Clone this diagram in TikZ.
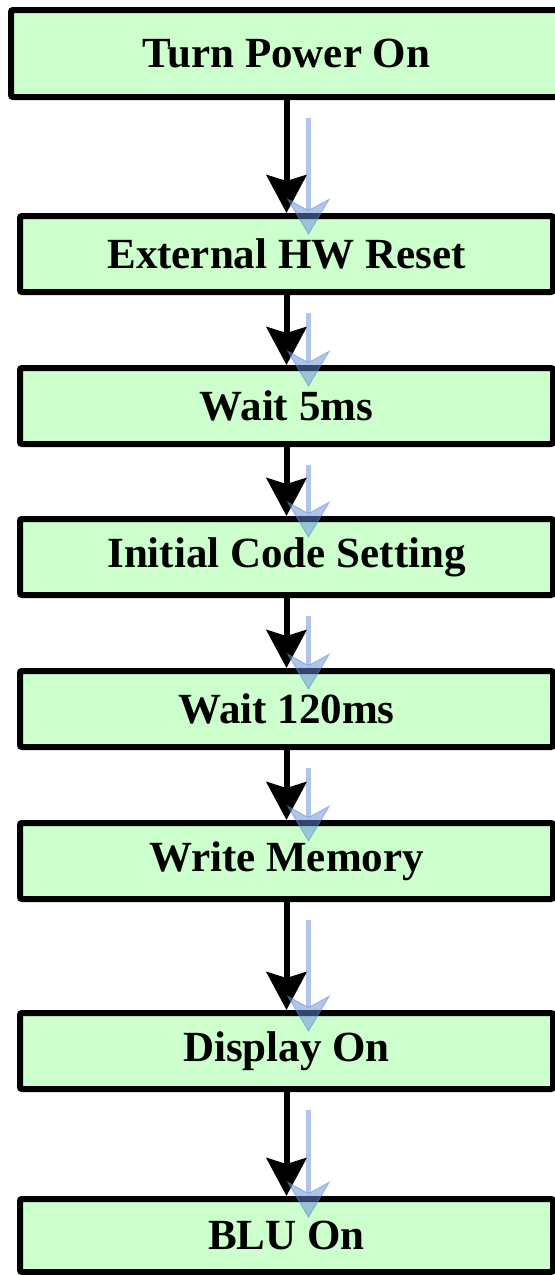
\documentclass[tikz,border=0pt]{standalone}
\usepackage{fontspec}
\setmainfont{Liberation Serif}
\usetikzlibrary{positioning}
\usetikzlibrary{arrows.meta}

\definecolor{boxgreen}{RGB}{204,255,204}
\definecolor{ghostblue}{RGB}{100,140,215}

\begin{document}
\begin{tikzpicture}[flowbox/.style={rectangle, draw=black, fill=boxgreen, line width=3pt, rounded corners=1pt, minimum width=266.5pt, minimum height=38pt, font=\fontsize{21.5pt}{24pt}\selectfont\bfseries},
	flowarrow/.style={line width=3pt, -{Stealth[width=20pt,length=19pt,inset=3pt]}},
	ghostarrow/.style={draw=ghostblue, opacity=0.5, line width=2.5pt, -{Stealth[width=22pt,length=18.5pt,inset=6pt,line width=0.5pt,fill=ghostblue]}},
	node distance = 35pt]
	\useasboundingbox (0,0) rectangle (277.5pt,-637.5pt);
	\node[flowbox, minimum width=275.5pt, minimum height=43.5pt] (power) at (143.25pt,-26.75pt) {Turn Power On};
	\node[flowbox] (reset) [below = 56.5pt of power] {External HW Reset};
	\node[flowbox] (wait5) [below = of reset] {Wait 5ms};
	\node[flowbox] (initcode) [below = 34.5pt of wait5] {Initial Code Setting};
	\node[flowbox] (wait120) [below = of initcode] {Wait 120ms};
	\node[flowbox] (writemem) [below = of wait120] {Write Memory};
	\node[flowbox] (dispon) [below = 54pt of writemem] {Display On};
	\node[flowbox, minimum height=36.5pt] (bluon) [below = 52pt of dispon] {BLU On};
	\draw[flowarrow] (power.south) -- (reset.north);
	\draw[flowarrow] (reset.south) -- (wait5.north);
	\draw[flowarrow] (wait5.south) -- (initcode.north);
	\draw[flowarrow] (initcode.south) -- (wait120.north);
	\draw[flowarrow] (wait120.south) -- (writemem.north);
	\draw[flowarrow] (writemem.south) -- (dispon.north);
	\draw[flowarrow] (dispon.south) -- (bluon.north);
	% faint shadow arrows
	\draw[ghostarrow] ([xshift=11pt,yshift=-9pt]power.south) -- ([xshift=11pt,yshift=-11pt]reset.north);
	\draw[ghostarrow] ([xshift=11pt,yshift=-9pt]reset.south) -- ([xshift=11pt,yshift=-11pt]wait5.north);
	\draw[ghostarrow] ([xshift=11pt,yshift=-9pt]wait5.south) -- ([xshift=11pt,yshift=-11pt]initcode.north);
	\draw[ghostarrow] ([xshift=11pt,yshift=-9pt]initcode.south) -- ([xshift=11pt,yshift=-11pt]wait120.north);
	\draw[ghostarrow] ([xshift=11pt,yshift=-9pt]wait120.south) -- ([xshift=11pt,yshift=-11pt]writemem.north);
	\draw[ghostarrow] ([xshift=11pt,yshift=-9pt]writemem.south) -- ([xshift=11pt,yshift=-11pt]dispon.north);
	\draw[ghostarrow] ([xshift=11pt,yshift=-9pt]dispon.south) -- ([xshift=11pt,yshift=-11pt]bluon.north);
\end{tikzpicture}
\end{document}
